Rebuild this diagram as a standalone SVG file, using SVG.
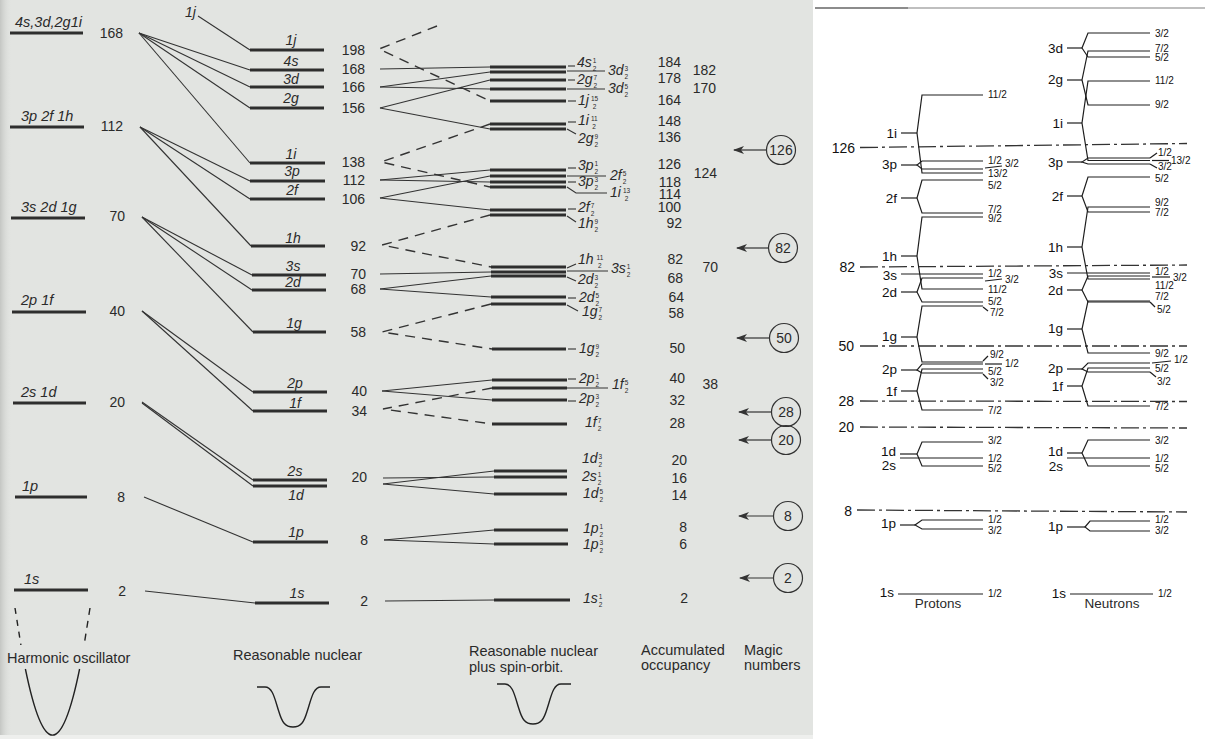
<svg xmlns="http://www.w3.org/2000/svg" width="1205" height="739" viewBox="0 0 1205 739">
<defs>
<style>
text{font-family:"Liberation Sans",Arial,Helvetica,sans-serif;fill:#2a2a2a}
.n{font-size:14px}
.ne{font-size:14px;text-anchor:end}
.o{font-size:14px;font-style:italic}
.oc{font-size:14px;font-style:italic;text-anchor:middle}
.ol{font-size:14.5px;font-style:italic}
.fr{font-size:6.5px;font-style:normal}
.cap{font-size:14.5px}
.bar{stroke:#2e2e2e;stroke-width:3}
.th{stroke:#333;stroke-width:1.1;fill:none}
.ds{stroke:#333;stroke-width:1.4;stroke-dasharray:10 7;fill:none}
.mg{fill:none;stroke:#333;stroke-width:1.2}
.mt{font-size:14px;text-anchor:middle}
.rl{stroke:#1e1e1e;stroke-width:1.2;fill:none}
.dd{stroke:#333;stroke-width:1.3;stroke-dasharray:18 4 3 4}
.rt{font-size:13.5px;fill:#111;text-anchor:end}
.rs{font-size:10px;fill:#111}
.rm{font-size:14px;fill:#111;text-anchor:end}
.pot{fill:none;stroke:#222;stroke-width:1.4}
</style>
<marker id="ah" markerWidth="11" markerHeight="8" refX="10" refY="4" orient="auto" markerUnits="userSpaceOnUse">
<path d="M0,0 L11,4 L0,8 L3,4 z" fill="#333"/>
</marker>
<linearGradient id="edge" x1="0" y1="0" x2="1" y2="0">
<stop offset="0" stop-color="#c4c6c3"/>
<stop offset="1" stop-color="#e2e4e1" stop-opacity="0"/>
</linearGradient>
</defs>

<rect width="1205" height="739" fill="#ffffff"/>
<rect x="0" y="0" width="813" height="735" fill="#e2e4e1"/>
<rect x="0" y="735" width="813" height="4" fill="#eeefed"/>
<rect x="0" y="0" width="12" height="735" fill="url(#edge)"/>
<line x1="815" y1="8" x2="908" y2="8" stroke="#666" stroke-width="1.5"/>
<line x1="908" y1="8" x2="1205" y2="8" stroke="#aaa" stroke-width="1.5"/>

<!-- Harmonic oscillator column -->
<g id="harmonic">
<g id="ho-168"><line class="bar" x1="10" y1="33" x2="83" y2="33"/><text class="ol" x="15" y="27">4s,3d,2g1i</text><text class="ne" x="123" y="38">168</text></g>
<g id="ho-112"><line class="bar" x1="10" y1="127" x2="84" y2="127"/><text class="ol" x="21" y="121">3p 2f 1h</text><text class="ne" x="123" y="131">112</text></g>
<g id="ho-70"><line class="bar" x1="11" y1="218" x2="85" y2="218"/><text class="ol" x="21" y="212">3s 2d 1g</text><text class="ne" x="125" y="221">70</text></g>
<g id="ho-40"><line class="bar" x1="12" y1="312" x2="86" y2="312"/><text class="ol" x="21" y="305">2p 1f</text><text class="ne" x="125" y="316">40</text></g>
<g id="ho-20"><line class="bar" x1="13" y1="403" x2="86" y2="403"/><text class="ol" x="21" y="397">2s 1d</text><text class="ne" x="125" y="407">20</text></g>
<g id="ho-8"><line class="bar" x1="15" y1="497" x2="87" y2="497"/><text class="ol" x="22" y="491">1p</text><text class="ne" x="125" y="502">8</text></g>
<g id="ho-2"><line class="bar" x1="14" y1="590" x2="88" y2="590"/><text class="ol" x="24" y="584">1s</text><text class="ne" x="126" y="596">2</text></g>
<g id="ho-pot">
<line class="pot" x1="15" y1="608" x2="20.9" y2="645" stroke-dasharray="6 6"/>
<line class="pot" x1="90" y1="608" x2="84.1" y2="645" stroke-dasharray="7 6"/>
<path class="pot" d="M25.4,669 Q52.5,801.3 79.6,669"/>
<text class="cap" x="7" y="663">Harmonic oscillator</text>
</g>
</g>

<!-- Reasonable nuclear column -->
<g id="nuclear">
<g id="rn-1j"><line class="bar" x1="250" y1="50" x2="324" y2="50"/><text class="oc" x="291" y="45">1j</text><text class="ne" x="365" y="55">198</text></g>
<g id="rn-4s"><line class="bar" x1="250" y1="70" x2="324" y2="70"/><text class="oc" x="291" y="66">4s</text><text class="ne" x="365" y="74">168</text></g>
<g id="rn-3d"><line class="bar" x1="250" y1="87" x2="324" y2="87"/><text class="oc" x="291" y="84">3d</text><text class="ne" x="365" y="92">166</text></g>
<g id="rn-2g"><line class="bar" x1="250" y1="108" x2="324" y2="108"/><text class="oc" x="291" y="103">2g</text><text class="ne" x="365" y="113">156</text></g>
<g id="rn-1i"><line class="bar" x1="250" y1="163" x2="325" y2="163"/><text class="oc" x="291" y="159">1i</text><text class="ne" x="365" y="167">138</text></g>
<g id="rn-3p"><line class="bar" x1="250" y1="181" x2="325" y2="181"/><text class="oc" x="292" y="176">3p</text><text class="ne" x="365" y="185">112</text></g>
<g id="rn-2f"><line class="bar" x1="250" y1="199" x2="325" y2="199"/><text class="oc" x="292" y="195">2f</text><text class="ne" x="365" y="204">106</text></g>
<g id="rn-1h"><line class="bar" x1="251" y1="246" x2="325" y2="246"/><text class="oc" x="293" y="243">1h</text><text class="ne" x="366" y="251">92</text></g>
<g id="rn-3s"><line class="bar" x1="252" y1="275" x2="326" y2="275"/><text class="oc" x="293" y="271">3s</text><text class="ne" x="366" y="279">70</text></g>
<g id="rn-2d"><line class="bar" x1="252" y1="290" x2="326" y2="290"/><text class="oc" x="293" y="287">2d</text><text class="ne" x="366" y="294">68</text></g>
<g id="rn-1g"><line class="bar" x1="253" y1="332" x2="326" y2="332"/><text class="oc" x="294" y="328">1g</text><text class="ne" x="366" y="337">58</text></g>
<g id="rn-2p"><line class="bar" x1="253" y1="392" x2="327" y2="392"/><text class="oc" x="295" y="388">2p</text><text class="ne" x="367" y="396">40</text></g>
<g id="rn-1f"><line class="bar" x1="253" y1="411" x2="327" y2="411"/><text class="oc" x="295" y="408">1f</text><text class="ne" x="367" y="416">34</text></g>
<g id="rn-2s"><line class="bar" x1="253" y1="480" x2="327" y2="480"/><text class="oc" x="295" y="476">2s</text><text class="ne" x="367" y="482">20</text></g>
<g id="rn-1d"><line class="bar" x1="253" y1="486" x2="327" y2="486"/><text class="oc" x="296" y="500">1d</text></g>
<g id="rn-1p"><line class="bar" x1="253" y1="542" x2="328" y2="542"/><text class="oc" x="296" y="537">1p</text><text class="ne" x="368" y="545">8</text></g>
<g id="rn-1s"><line class="bar" x1="255" y1="603" x2="329" y2="603"/><text class="oc" x="297" y="598">1s</text><text class="ne" x="368" y="606">2</text></g>
<g id="rn-pot">
<path class="pot" d="M257,687 L265,687 C273,687 275,700 279,712 C282,722 285,727 293,727 C301,727 304,722 307,712 C311,700 313,687 321,687 L330,687"/>
<text class="cap" x="233" y="660">Reasonable nuclear</text>
</g>
</g>

<!-- Spin-orbit column bars -->
<g id="spinorbit">
<g id="so-bars">
<line class="bar" x1="490" y1="67" x2="566" y2="67"/>
<line class="bar" x1="490" y1="72" x2="566" y2="72"/>
<line class="bar" x1="490" y1="80" x2="566" y2="80"/>
<line class="bar" x1="490" y1="89" x2="566" y2="89"/>
<line class="bar" x1="490" y1="101" x2="566" y2="101"/>
<line class="bar" x1="490" y1="124" x2="566" y2="124"/>
<line class="bar" x1="490" y1="129" x2="566" y2="129"/>
<line class="bar" x1="490" y1="170" x2="566" y2="170"/>
<line class="bar" x1="490" y1="176" x2="566" y2="176"/>
<line class="bar" x1="490" y1="182" x2="566" y2="182"/>
<line class="bar" x1="490" y1="187" x2="566" y2="187"/>
<line class="bar" x1="490" y1="210" x2="566" y2="210"/>
<line class="bar" x1="490" y1="215" x2="566" y2="215"/>
<line class="bar" x1="491" y1="267" x2="566" y2="267"/>
<line class="bar" x1="491" y1="272" x2="566" y2="272"/>
<line class="bar" x1="491" y1="276" x2="566" y2="276"/>
<line class="bar" x1="491" y1="297" x2="566" y2="297"/>
<line class="bar" x1="491" y1="304" x2="566" y2="304"/>
<line class="bar" x1="492" y1="349" x2="566" y2="349"/>
<line class="bar" x1="492" y1="380" x2="567" y2="380"/>
<line class="bar" x1="492" y1="388" x2="567" y2="388"/>
<line class="bar" x1="492" y1="400" x2="567" y2="400"/>
<line class="bar" x1="492" y1="424" x2="567" y2="424"/>
<line class="bar" x1="494" y1="471" x2="567" y2="471"/>
<line class="bar" x1="494" y1="477" x2="567" y2="477"/>
<line class="bar" x1="494" y1="494" x2="567" y2="494"/>
<line class="bar" x1="494" y1="530" x2="568" y2="530"/>
<line class="bar" x1="494" y1="544" x2="568" y2="544"/>
<line class="bar" x1="494" y1="600" x2="570" y2="600"/>
</g>
<g id="so-leaders" class="th">
<line x1="568" y1="66" x2="575" y2="66"/>
<line x1="567" y1="71" x2="605" y2="71"/>
<line x1="568" y1="80" x2="575" y2="80"/>
<line x1="567" y1="89" x2="605" y2="89"/>
<line x1="568" y1="101" x2="576" y2="101"/>
<line x1="568" y1="122" x2="576" y2="122"/>
<line x1="567" y1="129" x2="576" y2="134"/>
<line x1="568" y1="168" x2="576" y2="168"/>
<line x1="567" y1="176" x2="606" y2="176"/>
<line x1="568" y1="182" x2="576" y2="182"/>
<polyline points="567,187 576,193 607,193"/>
<line x1="568" y1="209" x2="576" y2="209"/>
<line x1="567" y1="216" x2="576" y2="222"/>
<line x1="567" y1="268" x2="576" y2="264"/>
<line x1="567" y1="271" x2="608" y2="271"/>
<line x1="567" y1="277" x2="576" y2="281"/>
<line x1="568" y1="298" x2="576" y2="298"/>
<line x1="567" y1="305" x2="578" y2="311"/>
<line x1="568" y1="349" x2="576" y2="349"/>
<line x1="568" y1="379" x2="576" y2="379"/>
<line x1="567" y1="388" x2="608" y2="388"/>
<line x1="568" y1="401" x2="576" y2="401"/>
</g>
<g id="so-labels">
<text class="o" x="577" y="67">4s<tspan class="fr" dx="1" dy="-4">1</tspan><tspan class="fr" dx="-3.6" dy="8">2</tspan></text>
<text class="o" x="608" y="75">3d<tspan class="fr" dx="1" dy="-4">3</tspan><tspan class="fr" dx="-3.6" dy="8">2</tspan></text>
<text class="o" x="577" y="84">2g<tspan class="fr" dx="1" dy="-4">7</tspan><tspan class="fr" dx="-3.6" dy="8">2</tspan></text>
<text class="o" x="608" y="93">3d<tspan class="fr" dx="1" dy="-4">5</tspan><tspan class="fr" dx="-3.6" dy="8">2</tspan></text>
<text class="o" x="578" y="105">1j<tspan class="fr" dx="2" dy="-4">15</tspan><tspan class="fr" dx="-5.4" dy="8">2</tspan></text>
<text class="o" x="578" y="125">1i<tspan class="fr" dx="2" dy="-4">11</tspan><tspan class="fr" dx="-5.4" dy="8">2</tspan></text>
<text class="o" x="578" y="143">2g<tspan class="fr" dx="1" dy="-4">9</tspan><tspan class="fr" dx="-3.6" dy="8">2</tspan></text>
<text class="o" x="578" y="170">3p<tspan class="fr" dx="1" dy="-4">1</tspan><tspan class="fr" dx="-3.6" dy="8">2</tspan></text>
<text class="o" x="610" y="180">2f<tspan class="fr" dx="1" dy="-4">5</tspan><tspan class="fr" dx="-3.6" dy="8">2</tspan></text>
<text class="o" x="578" y="186">3p<tspan class="fr" dx="1" dy="-4">3</tspan><tspan class="fr" dx="-3.6" dy="8">2</tspan></text>
<text class="o" x="610" y="197">1i<tspan class="fr" dx="2" dy="-4">13</tspan><tspan class="fr" dx="-5.4" dy="8">2</tspan></text>
<text class="o" x="578" y="212">2f<tspan class="fr" dx="1" dy="-4">7</tspan><tspan class="fr" dx="-3.6" dy="8">2</tspan></text>
<text class="o" x="578" y="228">1h<tspan class="fr" dx="1" dy="-4">9</tspan><tspan class="fr" dx="-3.6" dy="8">2</tspan></text>
<text class="o" x="578" y="264">1h<tspan class="fr" dx="3" dy="-4">11</tspan><tspan class="fr" dx="-5.4" dy="8">2</tspan></text>
<text class="o" x="611" y="273">3s<tspan class="fr" dx="1" dy="-4">1</tspan><tspan class="fr" dx="-3.6" dy="8">2</tspan></text>
<text class="o" x="578" y="284">2d<tspan class="fr" dx="1" dy="-4">3</tspan><tspan class="fr" dx="-3.6" dy="8">2</tspan></text>
<text class="o" x="579" y="302">2d<tspan class="fr" dx="1" dy="-4">5</tspan><tspan class="fr" dx="-3.6" dy="8">2</tspan></text>
<text class="o" x="582" y="316">1g<tspan class="fr" dx="1" dy="-4">7</tspan><tspan class="fr" dx="-3.6" dy="8">2</tspan></text>
<text class="o" x="579" y="353">1g<tspan class="fr" dx="1" dy="-4">9</tspan><tspan class="fr" dx="-3.6" dy="8">2</tspan></text>
<text class="o" x="579" y="383">2p<tspan class="fr" dx="1" dy="-4">1</tspan><tspan class="fr" dx="-3.6" dy="8">2</tspan></text>
<text class="o" x="612" y="389">1f<tspan class="fr" dx="1" dy="-4">5</tspan><tspan class="fr" dx="-3.6" dy="8">2</tspan></text>
<text class="o" x="579" y="403">2p<tspan class="fr" dx="1" dy="-4">3</tspan><tspan class="fr" dx="-3.6" dy="8">2</tspan></text>
<text class="o" x="585" y="427">1f<tspan class="fr" dx="1" dy="-4">7</tspan><tspan class="fr" dx="-3.6" dy="8">2</tspan></text>
<text class="o" x="582" y="463">1d<tspan class="fr" dx="1" dy="-4">3</tspan><tspan class="fr" dx="-3.6" dy="8">2</tspan></text>
<text class="o" x="582" y="481">2s<tspan class="fr" dx="1" dy="-4">1</tspan><tspan class="fr" dx="-3.6" dy="8">2</tspan></text>
<text class="o" x="583" y="498">1d<tspan class="fr" dx="1" dy="-4">5</tspan><tspan class="fr" dx="-3.6" dy="8">2</tspan></text>
<text class="o" x="583" y="533">1p<tspan class="fr" dx="1" dy="-4">1</tspan><tspan class="fr" dx="-3.6" dy="8">2</tspan></text>
<text class="o" x="583" y="549">1p<tspan class="fr" dx="1" dy="-4">3</tspan><tspan class="fr" dx="-3.6" dy="8">2</tspan></text>
<text class="o" x="583" y="603">1s<tspan class="fr" dx="1" dy="-4">1</tspan><tspan class="fr" dx="-3.6" dy="8">2</tspan></text>
</g>
<g id="so-pot">
<path class="pot" d="M497,684 L505,684 C513,684 515,697 519,709 C522,719 525,724 533,724 C541,724 544,719 547,709 C551,697 553,684 561,684 L571,684"/>
<text class="cap" x="469" y="656">Reasonable nuclear</text>
<text class="cap" x="469" y="672">plus spin-orbit.</text>
</g>
</g>

<!-- Connectors -->
<g id="connectors">
<g class="th">
<polyline points="198,16 250,50"/>
<line x1="139" y1="33" x2="250" y2="70"/>
<line x1="139" y1="33" x2="250" y2="87"/>
<line x1="139" y1="33" x2="250" y2="108"/>
<line x1="139" y1="33" x2="250" y2="163"/>
<line x1="140" y1="127" x2="250" y2="181"/>
<line x1="140" y1="127" x2="250" y2="199"/>
<line x1="140" y1="127" x2="251" y2="246"/>
<line x1="142" y1="217" x2="252" y2="275"/>
<line x1="142" y1="217" x2="252" y2="290"/>
<line x1="142" y1="217" x2="253" y2="332"/>
<line x1="142" y1="311" x2="253" y2="392"/>
<line x1="142" y1="311" x2="253" y2="411"/>
<line x1="142" y1="402" x2="253" y2="480"/>
<line x1="142" y1="403" x2="253" y2="486"/>
<line x1="144" y1="497" x2="253" y2="542"/>
<line x1="145" y1="591" x2="255" y2="603"/>
<line x1="380" y1="69" x2="490" y2="67"/>
<line x1="380" y1="87" x2="490" y2="72"/>
<line x1="380" y1="87" x2="490" y2="89"/>
<line x1="380" y1="108" x2="490" y2="80"/>
<line x1="380" y1="108" x2="490" y2="129"/>
<line x1="380" y1="180" x2="490" y2="170"/>
<line x1="380" y1="180" x2="490" y2="182"/>
<line x1="380" y1="198" x2="490" y2="176"/>
<line x1="380" y1="198" x2="490" y2="210"/>
<line x1="380" y1="274" x2="491" y2="272"/>
<line x1="380" y1="289" x2="491" y2="276"/>
<line x1="380" y1="289" x2="491" y2="297"/>
<line x1="382" y1="391" x2="492" y2="380"/>
<line x1="382" y1="391" x2="492" y2="400"/>
<line x1="383" y1="478" x2="494" y2="477"/>
<line x1="383" y1="484" x2="494" y2="471"/>
<line x1="383" y1="484" x2="494" y2="494"/>
<line x1="384" y1="540" x2="494" y2="530"/>
<line x1="384" y1="540" x2="494" y2="544"/>
<line x1="385" y1="601" x2="494" y2="600"/>
</g>
<g class="ds">
<polyline points="437,26 379,49 490,101"/>
<polyline points="490,124 381,162 490,187"/>
<polyline points="490,215 382,245 491,267"/>
<polyline points="491,304 382,332 492,349"/>
<polyline points="492,388 383,409 492,424"/>
</g>
<text class="o" x="185" y="17">1j</text>
</g>

<!-- Accumulated occupancy -->
<g id="occupancy">
<text class="ne" x="681" y="67">184</text>
<text class="ne" x="681" y="83">178</text>
<text class="ne" x="681" y="105">164</text>
<text class="ne" x="681" y="126">148</text>
<text class="ne" x="681" y="142">136</text>
<text class="ne" x="681" y="169">126</text>
<text class="ne" x="681" y="187">118</text>
<text class="ne" x="681" y="199">114</text>
<text class="ne" x="681" y="212">100</text>
<text class="ne" x="682" y="228">92</text>
<text class="ne" x="683" y="264">82</text>
<text class="ne" x="683" y="283">68</text>
<text class="ne" x="684" y="302">64</text>
<text class="ne" x="684" y="318">58</text>
<text class="ne" x="685" y="353">50</text>
<text class="ne" x="685" y="383">40</text>
<text class="ne" x="685" y="405">32</text>
<text class="ne" x="685" y="428">28</text>
<text class="ne" x="687" y="465">20</text>
<text class="ne" x="687" y="483">16</text>
<text class="ne" x="687" y="500">14</text>
<text class="ne" x="687" y="532">8</text>
<text class="ne" x="687" y="549">6</text>
<text class="ne" x="688" y="603">2</text>
<text class="ne" x="716" y="75">182</text>
<text class="ne" x="716" y="93">170</text>
<text class="ne" x="717" y="178">124</text>
<text class="ne" x="718" y="272">70</text>
<text class="ne" x="718" y="389">38</text>
<text class="cap" x="641" y="655">Accumulated</text>
<text class="cap" x="641" y="670">occupancy</text>
</g>

<!-- Magic numbers -->
<g id="magic">
<g id="m126"><circle class="mg" cx="781" cy="150" r="14.5"/><text class="mt" x="781" y="155">126</text><line class="mg" x1="766" y1="150" x2="734" y2="150" marker-end="url(#ah)"/></g>
<g id="m82"><circle class="mg" cx="783" cy="248" r="14.5"/><text class="mt" x="783" y="253">82</text><line class="mg" x1="768" y1="248" x2="737" y2="248" marker-end="url(#ah)"/></g>
<g id="m50"><circle class="mg" cx="784" cy="338" r="14.5"/><text class="mt" x="784" y="343">50</text><line class="mg" x1="769" y1="338" x2="737" y2="338" marker-end="url(#ah)"/></g>
<g id="m28"><circle class="mg" cx="786" cy="412" r="14.5"/><text class="mt" x="786" y="417">28</text><line class="mg" x1="771" y1="412" x2="739" y2="412" marker-end="url(#ah)"/></g>
<g id="m20"><circle class="mg" cx="786" cy="440" r="14.5"/><text class="mt" x="786" y="445">20</text><line class="mg" x1="771" y1="440" x2="739" y2="440" marker-end="url(#ah)"/></g>
<g id="m8"><circle class="mg" cx="788" cy="516" r="14.5"/><text class="mt" x="788" y="521">8</text><line class="mg" x1="773" y1="516" x2="739" y2="516" marker-end="url(#ah)"/></g>
<g id="m2"><circle class="mg" cx="788" cy="578" r="14.5"/><text class="mt" x="788" y="583">2</text><line class="mg" x1="773" y1="578" x2="740" y2="578" marker-end="url(#ah)"/></g>
<text class="cap" x="744" y="655">Magic</text>
<text class="cap" x="744" y="670">numbers</text>
</g>

<!-- Right panel: shell gaps -->
<g id="gaps">
<text class="rm" x="855" y="153">126</text><line class="dd" x1="860" y1="147.5" x2="1187" y2="143.5"/>
<text class="rm" x="855" y="272">82</text><line class="dd" x1="860" y1="267" x2="1187" y2="265"/>
<text class="rm" x="854" y="351">50</text><line class="dd" x1="860" y1="346" x2="1187" y2="346"/>
<text class="rm" x="854" y="406">28</text><line class="dd" x1="860" y1="401" x2="1187" y2="401.5"/>
<text class="rm" x="854" y="432">20</text><line class="dd" x1="860" y1="427" x2="1187" y2="428"/>
<text class="rm" x="852" y="516">8</text><line class="dd" x1="857" y1="510" x2="1187" y2="512"/>
</g>

<!-- Protons -->
<g id="protons">
<g class="rl">
<line x1="901" y1="133" x2="917" y2="133"/><polyline points="983,95 922,95 917,133 922,173 983,173"/>
<line x1="901" y1="165" x2="917" y2="165"/><polyline points="983,161 922,161 917,165 922,169 983,169"/>
<line x1="901" y1="198" x2="917" y2="198"/><polyline points="983,180 922,180 917,198 922,213 983,213"/>
<line x1="901" y1="256" x2="917" y2="256"/><polyline points="983,217 922,217 917,256 922,289 983,289"/>
<line x1="901" y1="274" x2="983" y2="274"/>
<line x1="901" y1="292" x2="917" y2="292"/><polyline points="983,278 922,278 917,292 922,302 983,302"/>
<line x1="901" y1="337" x2="917" y2="337"/><polyline points="983,306 922,306 917,337 922,362 983,362"/>
<line x1="901" y1="370" x2="917" y2="370"/><polyline points="983,364 922,364 917,370 922,373 983,373"/>
<line x1="901" y1="391" x2="917" y2="391"/><polyline points="983,369 922,369 917,391 922,410 983,410"/>
<line x1="900" y1="454" x2="917" y2="454"/><polyline points="983,442 922,442 917,454 922,466 983,466"/>
<line x1="900" y1="458" x2="983" y2="458"/>
<line x1="900" y1="525" x2="915" y2="525"/><polyline points="983,520 922,520 915,525 922,529 983,529"/>
<line x1="898" y1="594" x2="983" y2="594"/>
<line x1="985" y1="168" x2="1002" y2="166"/>
<line x1="985" y1="281" x2="1002" y2="279"/>
<line x1="983" y1="307" x2="988" y2="311"/>
<line x1="983" y1="361" x2="988" y2="356"/>
<line x1="985" y1="364" x2="1002" y2="364"/>
<line x1="983" y1="374" x2="988" y2="379"/>
</g>
<text class="rt" x="897" y="138">1i</text>
<text class="rt" x="897" y="169">3p</text>
<text class="rt" x="897" y="203">2f</text>
<text class="rt" x="897" y="261">1h</text>
<text class="rt" x="897" y="280">3s</text>
<text class="rt" x="897" y="297">2d</text>
<text class="rt" x="897" y="341">1g</text>
<text class="rt" x="897" y="374">2p</text>
<text class="rt" x="897" y="396">1f</text>
<text class="rt" x="896" y="456">1d</text>
<text class="rt" x="896" y="470">2s</text>
<text class="rt" x="896" y="528">1p</text>
<text class="rt" x="894" y="597">1s</text>
<text class="rs" x="988" y="98">11/2</text>
<text class="rs" x="988" y="164">1/2</text>
<text class="rs" x="1005" y="167">3/2</text>
<text class="rs" x="988" y="177">13/2</text>
<text class="rs" x="988" y="189">5/2</text>
<text class="rs" x="988" y="213">7/2</text>
<text class="rs" x="988" y="222">9/2</text>
<text class="rs" x="988" y="277">1/2</text>
<text class="rs" x="1005" y="283">3/2</text>
<text class="rs" x="988" y="293">11/2</text>
<text class="rs" x="988" y="305">5/2</text>
<text class="rs" x="990" y="316">7/2</text>
<text class="rs" x="990" y="358">9/2</text>
<text class="rs" x="1005" y="367">1/2</text>
<text class="rs" x="988" y="375">5/2</text>
<text class="rs" x="990" y="386">3/2</text>
<text class="rs" x="988" y="414">7/2</text>
<text class="rs" x="988" y="444">3/2</text>
<text class="rs" x="988" y="462">1/2</text>
<text class="rs" x="988" y="472">5/2</text>
<text class="rs" x="988" y="523">1/2</text>
<text class="rs" x="988" y="534">3/2</text>
<text class="rs" x="988" y="597">1/2</text>
<text x="938" y="608" font-size="13.5" text-anchor="middle" fill="#111">Protons</text>
</g>

<!-- Neutrons -->
<g id="neutrons">
<g class="rl">
<line x1="1067" y1="48" x2="1082" y2="48"/><polyline points="1150,33 1088,33 1082,48 1088,57 1150,57"/>
<line x1="1067" y1="80" x2="1082" y2="80"/><polyline points="1150,51 1088,51 1082,80 1088,105 1150,105"/>
<line x1="1067" y1="123" x2="1082" y2="123"/><polyline points="1150,81 1088,81 1082,123 1088,160.5 1150,160.5"/>
<line x1="1067" y1="162" x2="1082" y2="162"/><polyline points="1150,158 1088,158 1082,162 1088,164 1150,164"/>
<line x1="1067" y1="196" x2="1082" y2="196"/><polyline points="1150,177 1088,177 1082,196 1088,212 1150,212"/>
<line x1="1067" y1="247" x2="1082" y2="247"/><polyline points="1150,207 1088,207 1082,247 1088,279 1150,279"/>
<line x1="1067" y1="273" x2="1150" y2="273"/>
<line x1="1067" y1="290" x2="1082" y2="290"/><polyline points="1150,276 1088,276 1082,290 1088,302 1150,302"/>
<line x1="1067" y1="329" x2="1082" y2="329"/><polyline points="1150,301 1088,301 1082,329 1088,353 1150,353"/>
<line x1="1067" y1="369" x2="1082" y2="369"/><polyline points="1150,363 1088,363 1082,369 1088,372 1150,372"/>
<line x1="1067" y1="386" x2="1082" y2="386"/><polyline points="1150,368 1088,368 1082,386 1088,406 1150,406"/>
<line x1="1067" y1="453" x2="1082" y2="453"/><polyline points="1150,440 1088,440 1082,453 1088,466 1150,466"/>
<line x1="1067" y1="458" x2="1150" y2="458"/>
<line x1="1067" y1="527" x2="1085" y2="527"/><polyline points="1150,521 1090,521 1085,527 1090,531 1150,531"/>
<line x1="1070" y1="594" x2="1153" y2="594"/>
<line x1="1150" y1="158" x2="1157" y2="153"/>
<line x1="1152" y1="160.5" x2="1169" y2="160.5"/>
<line x1="1150" y1="164" x2="1157" y2="168"/>
<line x1="1152" y1="277" x2="1170" y2="277"/>
<line x1="1150" y1="302" x2="1155" y2="307"/>
<line x1="1152" y1="363" x2="1171" y2="361"/>
<line x1="1150" y1="372" x2="1156" y2="377"/>
</g>
<text class="rt" x="1063" y="53">3d</text>
<text class="rt" x="1063" y="84">2g</text>
<text class="rt" x="1063" y="128">1i</text>
<text class="rt" x="1063" y="167">3p</text>
<text class="rt" x="1063" y="201">2f</text>
<text class="rt" x="1063" y="252">1h</text>
<text class="rt" x="1063" y="278">3s</text>
<text class="rt" x="1063" y="295">2d</text>
<text class="rt" x="1063" y="333">1g</text>
<text class="rt" x="1063" y="373">2p</text>
<text class="rt" x="1063" y="391">1f</text>
<text class="rt" x="1063" y="456">1d</text>
<text class="rt" x="1063" y="471">2s</text>
<text class="rt" x="1063" y="531">1p</text>
<text class="rt" x="1066" y="598">1s</text>
<text class="rs" x="1155" y="37">3/2</text>
<text class="rs" x="1155" y="52">7/2</text>
<text class="rs" x="1155" y="61">5/2</text>
<text class="rs" x="1155" y="84">11/2</text>
<text class="rs" x="1155" y="108">9/2</text>
<text class="rs" x="1158" y="156">1/2</text>
<text class="rs" x="1171" y="164">13/2</text>
<text class="rs" x="1158" y="170">3/2</text>
<text class="rs" x="1155" y="182">5/2</text>
<text class="rs" x="1155" y="206">9/2</text>
<text class="rs" x="1155" y="216">7/2</text>
<text class="rs" x="1155" y="275">1/2</text>
<text class="rs" x="1173" y="281">3/2</text>
<text class="rs" x="1155" y="289">11/2</text>
<text class="rs" x="1155" y="300">7/2</text>
<text class="rs" x="1157" y="313">5/2</text>
<text class="rs" x="1155" y="357">9/2</text>
<text class="rs" x="1174" y="363">1/2</text>
<text class="rs" x="1155" y="372">5/2</text>
<text class="rs" x="1157" y="385">3/2</text>
<text class="rs" x="1155" y="410">7/2</text>
<text class="rs" x="1155" y="444">3/2</text>
<text class="rs" x="1155" y="462">1/2</text>
<text class="rs" x="1155" y="472">5/2</text>
<text class="rs" x="1155" y="523">1/2</text>
<text class="rs" x="1155" y="534">3/2</text>
<text class="rs" x="1158" y="597">1/2</text>
<text x="1112" y="608" font-size="13.5" text-anchor="middle" fill="#111">Neutrons</text>
</g>
</svg>
